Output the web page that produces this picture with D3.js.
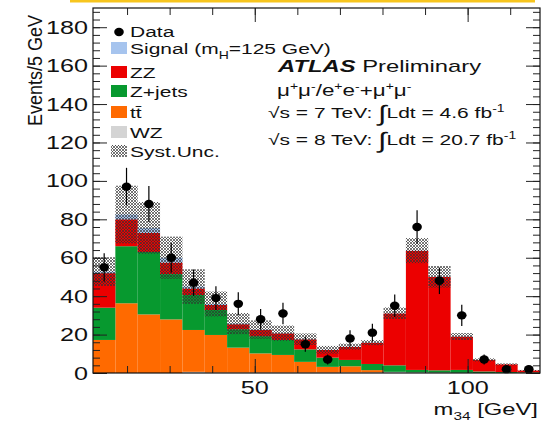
<html>
<head>
<script src="https://cdnjs.cloudflare.com/ajax/libs/d3/7.8.5/d3.min.js"></script>
<style>
  body { margin: 0; background: #fff; }
  text { font-family: "Liberation Sans", Arial, sans-serif; fill: #111; }
</style>
</head>
<body>
<script>
// bin edges of the m34 histogram (GeV)
var binEdges = [12, 17.25, 22.5, 27.75, 33, 38.25, 43.5, 48.75, 54, 59.25, 64.5,
                69.75, 75, 80.25, 85.5, 90.75, 96, 101.25, 106.5, 111.75, 117];

// background / signal contributions per bin (events)
var wz    = [0, 0, 0, 0, 0.6, 0.2, 0.2, 0.2, 0.2, 0.2, 0.2, 0.3, 0.3, 0.6, 0.3, 0.2, 0.1, 0, 0, 0];
var ttbar = [17.2, 36.3, 30.5, 27.9, 21.8, 19.6, 13.0, 10.0, 9.2, 5.6, 3.0, 3.2, 1.2, 0, 0, 0, 0, 0, 0, 0];
var zjets = [16.8, 29.7, 32.5, 23.6, 18.2, 13.0, 9.6, 9.0, 7.8, 6.5, 4.8, 3.3, 3.2, 3.4, 1.3, 1.2, 1.5, 0.8, 0.5, 0.3];
var zz    = [18.0, 14.0, 10.0, 6.0, 3.4, 2.6, 2.6, 3.2, 3.4, 5.2, 4.0, 6.8, 11.0, 27.0, 62.0, 48.6, 17.3, 6.0, 4.0, 1.0];
var signal = [0.8, 2.5, 2.5, 2.5, 1.0, 0.5, 0.3, 0.2, 0.1, 0.1, 0.1, 0.1, 0.1, 0.1, 0.1, 0.1, 0.1, 0, 0, 0];
var systUnc = [7.5, 15, 13.5, 11, 9, 6.5, 5.5, 4.8, 4, 3, 2, 1.6, 1.3, 3, 6.5, 5.6, 1.8, 0.8, 0.5, 0.3];

// observed data and its error
var dataObs = [55, 97, 88, 60, 47, 39, 36, 28, 31, 15, 7, 18, 21, 35, 76, 48, 30, 7, 2, 2];
var dataErr = [7.4, 9.8, 9.4, 7.7, 6.9, 6.2, 6.0, 5.3, 5.6, 3.9, 2.6, 4.2, 4.6, 5.9, 8.7, 6.9, 5.5, 2.6, 1.4, 1.4];

// axis ticks
var yMajor = [0, 20, 40, 60, 80, 100, 120, 140, 160, 180];
var xMajor = [50, 100];

var keys = ["wz", "ttbar", "zjets", "zz", "signal"];
var colors = {wz: "#d4d4d4", ttbar: "#ff6a00", zjets: "#07992f", zz: "#ec0000", signal: "#a6c4ee"};

var W = 558, H = 426;
var margin = {top: 8, right: 18, bottom: 53, left: 93};
var sx = 1.4; // wide font look

var svg = d3.select("body").append("svg")
  .attr("width", W)
  .attr("height", H);

// hatch pattern for the systematic band
var defs = svg.append("defs");
var pat = defs.append("pattern")
  .attr("id", "hatch")
  .attr("patternUnits", "userSpaceOnUse")
  .attr("width", 3).attr("height", 3);
pat.append("path").attr("d", "M0,0 L3,3 M3,0 L0,3")
  .attr("stroke", "#333").attr("stroke-width", 0.9).attr("stroke-opacity", 0.75);

// yellow strip on top
svg.append("rect").attr("x", 70).attr("y", 0).attr("width", 465).attr("height", 2.5).attr("fill", "#f7c51e");

var x = d3.scaleLinear().domain([12, 117]).range([margin.left, W - margin.right]);
var y = d3.scaleLinear().domain([0, 190]).range([H - margin.bottom, margin.top]);

// stack table built from the arrays
var table = binEdges.slice(0, -1).map(function(e, i) {
  return {lo: e, hi: binEdges[i + 1], wz: wz[i], ttbar: ttbar[i], zjets: zjets[i], zz: zz[i], signal: signal[i]};
});
var stacked = d3.stack().keys(keys)(table);

svg.append("g").selectAll("g")
  .data(stacked)
  .enter().append("g")
  .attr("fill", function(d) { return colors[d.key]; })
  .selectAll("rect")
  .data(function(d) { return d; })
  .enter().append("rect")
  .attr("x", function(d) { return x(d.data.lo); })
  .attr("width", function(d) { return x(d.data.hi) - x(d.data.lo); })
  .attr("y", function(d) { return y(d[1]); })
  .attr("height", function(d) { return y(d[0]) - y(d[1]); });

// syst band around the total
var totals = stacked[stacked.length - 1].map(function(d) { return d[1]; });
svg.append("g").selectAll("rect")
  .data(table)
  .enter().append("rect")
  .attr("x", function(d) { return x(d.lo); })
  .attr("width", function(d) { return x(d.hi) - x(d.lo); })
  .attr("y", function(d, i) { return y(totals[i] + systUnc[i]); })
  .attr("height", function(d, i) { return y(Math.max(0, totals[i] - systUnc[i])) - y(totals[i] + systUnc[i]); })
  .attr("fill", "url(#hatch)");

// data points
var pts = svg.append("g");
pts.selectAll("line")
  .data(table)
  .enter().append("line")
  .attr("x1", function(d) { return x((d.lo + d.hi) / 2); })
  .attr("x2", function(d) { return x((d.lo + d.hi) / 2); })
  .attr("y1", function(d, i) { return y(dataObs[i] + dataErr[i]); })
  .attr("y2", function(d, i) { return y(Math.max(0, dataObs[i] - dataErr[i])); })
  .attr("stroke", "#000").attr("stroke-width", 1.2);
pts.selectAll("ellipse")
  .data(table)
  .enter().append("ellipse")
  .attr("cx", function(d) { return x((d.lo + d.hi) / 2); })
  .attr("cy", function(d, i) { return y(dataObs[i]); })
  .attr("rx", 4.8).attr("ry", 4.2)
  .attr("fill", "#000");

// frame and ticks
var axG = svg.append("g").attr("class", "axes");
function ticks(axis, tr) {
  var g = axG.append("g").attr("transform", tr).call(axis);
  g.select(".domain").remove();
  g.selectAll("text").remove();
  g.selectAll("line").attr("stroke", "#222");
}
var yMinor = d3.range(0, 190, 4);
var xMinor = d3.range(20, 117, 10);
ticks(d3.axisLeft(y).tickValues(yMajor).tickSize(-14), "translate(" + margin.left + ",0)");
ticks(d3.axisLeft(y).tickValues(yMinor).tickSize(-7), "translate(" + margin.left + ",0)");
ticks(d3.axisRight(y).tickValues(yMajor).tickSize(-14), "translate(" + (W - margin.right) + ",0)");
ticks(d3.axisRight(y).tickValues(yMinor).tickSize(-7), "translate(" + (W - margin.right) + ",0)");
ticks(d3.axisBottom(x).tickValues(xMajor).tickSize(-14), "translate(0," + (H - margin.bottom) + ")");
ticks(d3.axisBottom(x).tickValues(xMinor).tickSize(-7), "translate(0," + (H - margin.bottom) + ")");
ticks(d3.axisTop(x).tickValues(xMajor).tickSize(-14), "translate(0," + margin.top + ")");
ticks(d3.axisTop(x).tickValues(xMinor).tickSize(-7), "translate(0," + margin.top + ")");

svg.append("rect")
  .attr("x", margin.left).attr("y", margin.top)
  .attr("width", W - margin.left - margin.right)
  .attr("height", H - margin.top - margin.bottom)
  .attr("fill", "none").attr("stroke", "#111").attr("stroke-width", 1.2);

// text helper with horizontal stretch
function addText(px, py, size, anchor) {
  return svg.append("text")
    .attr("transform", "translate(" + px + "," + py + ") scale(" + sx + ",1)")
    .attr("text-anchor", anchor || "start")
    .style("font-size", size + "px");
}

yMajor.forEach(function(v) {
  addText(88, y(v) + 6.5, 18, "end").text(v);
});
xMajor.forEach(function(v) {
  addText(x(v), 394, 18, "middle").text(v);
});

// axis titles
var xt = addText(538, 415, 17, "end");
xt.append("tspan").text("m");
xt.append("tspan").attr("dy", 5).style("font-size", "11px").text("34");
xt.append("tspan").attr("dy", -5).text(" [GeV]");

svg.append("text")
  .attr("transform", "translate(42,126) rotate(-90) scale(1,1.15)")
  .style("font-size", "18px")
  .text("Events/5 GeV");

// legend
var legendItems = ["Data", "Signal", "ZZ", "Z+jets", "tt", "WZ", "Syst.Unc."];
var legendFill = [null, colors.signal, colors.zz, colors.zjets, colors.ttbar, colors.wz, "url(#hatch)"];
var rowY = [37, 54, 78, 97, 118, 138, 157];
legendItems.forEach(function(name, i) {
  var ly = rowY[i];
  if (i === 0) {
    svg.append("ellipse").attr("cx", 119).attr("cy", ly - 5).attr("rx", 4.8).attr("ry", 4.2).attr("fill", "#000");
  } else {
    svg.append("rect").attr("x", 111).attr("y", ly - 12).attr("width", 16).attr("height", 12)
      .attr("fill", legendFill[i]);
  }
  var t = addText(130, ly, 15, "start");
  if (name === "Signal") {
    t.append("tspan").text("Signal (m");
    t.append("tspan").attr("dy", 5).style("font-size", "10px").text("H");
    t.append("tspan").attr("dy", -5).text("=125 GeV)");
  } else if (name === "tt") {
    t.text("t\u0074\u0304");
  } else {
    t.text(name);
  }
});

// ATLAS label and energy lines
var at = addText(278, 72, 17, "start");
at.append("tspan").style("font-weight", "bold").style("font-style", "italic").text("ATLAS");
at.append("tspan").text(" Preliminary");

var mu = addText(277, 96, 16, "start");
[["\u03bc", "+"], ["\u03bc", "-"], ["/e", "+"], ["e", "-"], ["+\u03bc", "+"], ["\u03bc", "-"]].forEach(function(p, i) {
  mu.append("tspan").attr("dy", i === 0 ? 0 : 6).text(p[0]);
  mu.append("tspan").attr("dy", -6).style("font-size", "10px").text(p[1]);
});

function lumiLine(py, sqrtS, lumi) {
  var t = addText(268, py, 15, "start");
  t.append("tspan").text("\u221as = " + sqrtS + " TeV: ");
  t.append("tspan").attr("dy", 3).style("font-size", "22px").text("\u222b");
  t.append("tspan").attr("dy", -3).text("Ldt = " + lumi + " fb");
  t.append("tspan").attr("dy", -6).style("font-size", "10px").text("-1");
}
lumiLine(118, 7, "4.6");
lumiLine(145, 8, "20.7");
</script>
</body>
</html>
